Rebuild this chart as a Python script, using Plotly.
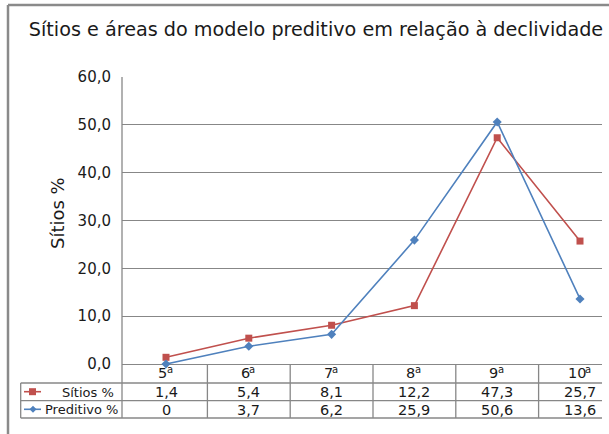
import plotly.graph_objects as go

# ──────────  DATA  ──────────
categorias = ["5ª", "6ª", "7ª", "8ª", "9ª", "10ª"]
sitios     = [1.4, 5.4, 8.1, 12.2, 47.3, 25.7]
preditivo  = [0, 3.7, 6.2, 25.9, 50.6, 13.6]
y_ticks    = [0, 10, 20, 30, 40, 50, 60]

TITLE  = "Sítios e áreas do modelo preditivo em relação à declividade"
RED    = "#C0504D"
BLUE   = "#4F81BD"
GRID   = "#878787"
INK    = "#1a1a1a"
FONT   = "DejaVu Sans"

W, H = 609, 434
ML, MR, MT, MB = 122, 7, 77, 70
PW, PH = W - ML - MR, H - MT - MB
CAT_W = 82.8                      # px per category
X0 = -0.5 - 2.6 / CAT_W
X1 = X0 + PW / CAT_W


def fx(px):   # pixel -> paper x
    return (px - ML) / PW


def fy(py):   # pixel -> paper y
    return (H - MB - py) / PH


def dx(v):    # data x -> paper x
    return (v - X0) / (X1 - X0)


def fmt(v):
    return (f"{v:g}").replace(".", ",")


xs = list(range(len(categorias)))

fig = go.Figure()
fig.add_trace(go.Scatter(
    x=xs, y=sitios, mode="lines+markers", name="Sítios %",
    line=dict(color=RED, width=1.6),
    marker=dict(symbol="square", size=7, color=RED), cliponaxis=False
))
fig.add_trace(go.Scatter(
    x=xs, y=preditivo, mode="lines+markers", name="Preditivo %",
    line=dict(color=BLUE, width=1.6),
    marker=dict(symbol="diamond", size=7, color=BLUE), cliponaxis=False
))

# ──────────  TABLE + FRAME  ──────────
row_top, row1, row2 = fy(383), fy(400.7), fy(418)
shapes = []
line = dict(color=GRID, width=1.3)
for yy in (row_top, row1, row2):
    shapes.append(dict(type="line", xref="paper", yref="paper",
                       x0=fx(20.7), x1=1, y0=yy, y1=yy, line=line))
shapes.append(dict(type="line", xref="paper", yref="paper",
                   x0=fx(20.7), x1=fx(20.7), y0=row_top, y1=row2, line=line))
# axis line running down through the table
shapes.append(dict(type="line", xref="paper", yref="paper",
                   x0=0, x1=0, y0=1, y1=row2, line=line))
for i in range(len(categorias) - 1):
    shapes.append(dict(type="line", xref="paper", yref="paper",
                       x0=dx(i + 0.5), x1=dx(i + 0.5), y0=0, y1=row2, line=line))
# chart outer border (left + top)
shapes.append(dict(type="line", xref="paper", yref="paper",
                   x0=fx(8), x1=fx(8), y0=fy(5), y1=fy(440),
                   line=dict(color="#8a8a8a", width=2.5)))
shapes.append(dict(type="line", xref="paper", yref="paper",
                   x0=fx(8), x1=fx(612), y0=fy(5), y1=fy(5),
                   line=dict(color="#8a8a8a", width=2.5)))
# legend keys
for yk, col in ((391.7, RED), (409.3, BLUE)):
    shapes.append(dict(type="line", xref="paper", yref="paper",
                       x0=fx(24), x1=fx(41), y0=fy(yk), y1=fy(yk),
                       line=dict(color=col, width=1.6)))
shapes.append(dict(type="rect", xref="paper", yref="paper",
                   x0=fx(29), x1=fx(36), y0=fy(388.2), y1=fy(395.2),
                   fillcolor=RED, line=dict(width=0)))
cx, cy = fx(33), fy(409.3)
ddx, ddy = 3.5 / PW, 3.5 / PH
shapes.append(dict(type="path", xref="paper", yref="paper",
                   path=f"M {cx-ddx},{cy} L {cx},{cy+ddy} L {cx+ddx},{cy} L {cx},{cy-ddy} Z",
                   fillcolor=BLUE, line=dict(width=0)))

annots = []
lfont = dict(family=FONT, size=13, color=INK)
nfont = dict(family=FONT, size=14.5, color=INK)
sfont = dict(family=FONT, size=10, color=INK)
for i, c in enumerate(categorias):
    num = c.rstrip("ª")
    shift = (9.2 * len(num) - 6.1) / 2      # centre "num + a" as one label
    annots.append(dict(x=i, y=fy(373), xref="x", yref="paper", text=num,
                       xshift=shift + 1.5, showarrow=False, font=nfont,
                       xanchor="right", yanchor="middle"))
    annots.append(dict(x=i, y=fy(369.5), xref="x", yref="paper", text="a",
                       xshift=shift - 3, showarrow=False, font=sfont,
                       xanchor="left", yanchor="middle"))
    annots.append(dict(x=i, y=fy(392), xref="x", yref="paper", text=fmt(sitios[i]),
                       showarrow=False, font=nfont, xanchor="center", yanchor="middle"))
    annots.append(dict(x=i, y=fy(409.5), xref="x", yref="paper", text=fmt(preditivo[i]),
                       showarrow=False, font=nfont, xanchor="center", yanchor="middle"))
annots.append(dict(x=fx(60), y=fy(392), xref="paper", yref="paper", text="Sítios %",
                   showarrow=False, font=lfont, xanchor="left", yanchor="middle"))
annots.append(dict(x=fx(43), y=fy(409.5), xref="paper", yref="paper", text="Preditivo %",
                   showarrow=False, font=lfont, xanchor="left", yanchor="middle"))
annots.append(dict(x=fx(57), y=fy(213), xref="paper", yref="paper", text="Sítios %",
                   textangle=-90, showarrow=False,
                   font=dict(family=FONT, size=18, color=INK),
                   xanchor="center", yanchor="middle"))

fig.update_layout(
    width=W, height=H, margin=dict(l=ML, r=MR, t=MT, b=MB),
    paper_bgcolor="white", plot_bgcolor="white",
    separators=",.", showlegend=False,
    title=dict(text=TITLE, x=316 / W, y=1 - 29 / H, xref="container",
               xanchor="center", yanchor="middle",
               font=dict(family=FONT, size=19.2, color=INK)),
    shapes=shapes, annotations=annots,
    xaxis=dict(range=[X0, X1], showgrid=False, zeroline=False, showline=False,
               showticklabels=False, fixedrange=True),
    yaxis=dict(range=[0, 60], tickvals=y_ticks, tickformat=".1f",
               showgrid=True, gridcolor=GRID, gridwidth=1.3,
               zeroline=True, zerolinecolor=GRID, zerolinewidth=1.3,
               showline=False, ticks="outside", ticklen=7,
               tickcolor="rgba(0,0,0,0)", fixedrange=True,
               tickfont=dict(family=FONT, size=15, color=INK)),
)

# drop the default 8px page margin so the figure sits at the window origin
fig.write_html("out.html", config={"displayModeBar": False},
               post_script="document.body.style.margin='0';")
